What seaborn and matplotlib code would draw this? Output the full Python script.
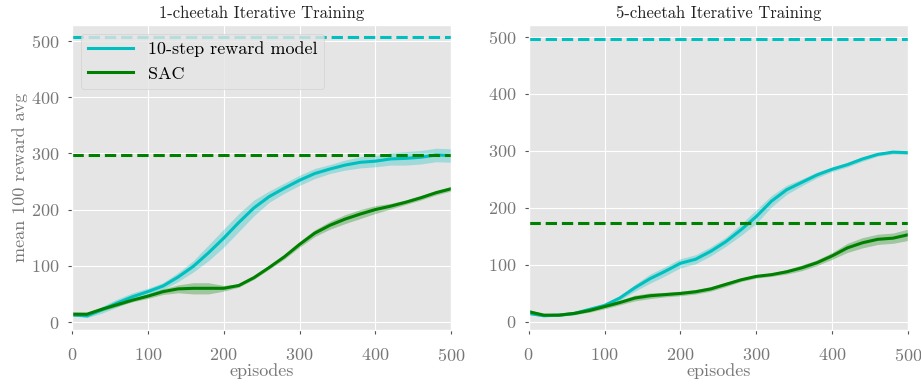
import numpy as np
import pandas as pd
import seaborn as sns
import matplotlib
matplotlib.use("Agg")
import matplotlib.pyplot as plt

EPISODES = [0, 20, 40, 60, 80, 100, 120, 140, 160, 180, 200, 220, 240,
            260, 280, 300, 320, 340, 360, 380, 400, 420, 440, 460, 480, 500]

# 1-cheetah
ONE_RM_MEAN = [13, 11, 22, 34, 45, 54, 64, 80, 99, 123, 149, 177, 203,
               223, 238, 252, 264, 272, 279, 284, 286, 290, 291, 293, 297, 296]
ONE_RM_SPREAD = [2, 3, 6, 7, 7, 6, 6, 8, 10, 14, 16, 16, 14,
                 10, 9, 9, 9, 8, 9, 10, 10, 11, 12, 12, 12, 12]
ONE_SAC_MEAN = [14, 14, 23, 31, 39, 46, 54, 59, 60, 60, 60, 65, 79,
                97, 116, 138, 158, 172, 183, 192, 200, 206, 213, 221, 230, 237]
ONE_SAC_SPREAD = [4, 3, 3, 3, 3, 4, 5, 7, 10, 10, 5, 3, 3,
                  3, 4, 5, 6, 7, 8, 8, 7, 5, 4, 4, 4, 4]
ONE_RM_BEST = 506
ONE_SAC_BEST = 297

# 5-cheetah
FIVE_RM_MEAN = [15, 11, 12, 15, 22, 29, 42, 60, 76, 89, 103, 110, 124,
                141, 162, 185, 212, 232, 245, 258, 268, 276, 286, 294, 298, 297]
FIVE_RM_SPREAD = [2, 2, 2, 3, 3, 3, 4, 6, 8, 8, 8, 8, 8,
                  8, 10, 12, 10, 8, 6, 5, 4, 4, 4, 3, 3, 3]
FIVE_SAC_MEAN = [18, 12, 12, 15, 20, 27, 34, 42, 46, 48, 50, 53, 58,
                 66, 74, 80, 83, 88, 95, 104, 116, 130, 139, 145, 147, 153]
FIVE_SAC_SPREAD = [4, 2, 2, 2, 3, 4, 4, 5, 5, 4, 4, 4, 4,
                   4, 3, 3, 3, 4, 5, 5, 6, 8, 9, 9, 9, 10]
FIVE_RM_BEST = 496
FIVE_SAC_BEST = 174

RM_COLOR = "c"
SAC_COLOR = "g"

plt.style.use("ggplot")
plt.rcParams["font.family"] = "serif"
plt.rcParams["font.serif"] = ["cmr10"]
plt.rcParams["axes.formatter.use_mathtext"] = True
plt.rcParams["mathtext.fontset"] = "cm"


def draw_panel(ax, title, rm_mean, rm_spread, sac_mean, sac_spread, rm_best, sac_best, ylim):
    df = pd.DataFrame({
        "episodes": EPISODES * 2,
        "reward": rm_mean + sac_mean,
        "model": ["10-step reward model"] * len(EPISODES) + ["SAC"] * len(EPISODES),
    })
    for model, mean, spread, color in [("10-step reward model", rm_mean, rm_spread, RM_COLOR),
                                        ("SAC", sac_mean, sac_spread, SAC_COLOR)]:
        sub = df[df["model"] == model]
        sns.lineplot(data=sub, x="episodes", y="reward", color=color, lw=2.2,
                     label=model, ax=ax)
        mean = np.array(mean)
        spread = np.array(spread)
        ax.fill_between(EPISODES, mean - spread, mean + spread, color=color, alpha=0.3, lw=0)
    ax.axhline(rm_best, color=RM_COLOR, ls="--", lw=2.2)
    ax.axhline(sac_best, color=SAC_COLOR, ls="--", lw=2.2)
    ax.set_xlim(0, 500)
    ax.set_ylim(*ylim)
    ax.set_xticks([0, 100, 200, 300, 400, 500])
    ax.set_yticks([0, 100, 200, 300, 400, 500])
    ax.tick_params(labelsize=13, colors="#555555", length=3)
    ax.tick_params(labelcolor="#777777")
    ax.tick_params(axis="x", pad=9)
    ax.tick_params(axis="y", pad=6)
    ax.set_title(title, fontsize=12, color="#222222", pad=5)
    ax.set_xlabel("episodes", fontsize=13, color="#777777", labelpad=0)


fig = plt.figure(figsize=(9.21, 3.85), dpi=100)
ax1 = fig.add_axes([0.078, 0.143, 0.412, 0.792])
ax2 = fig.add_axes([0.574, 0.143, 0.412, 0.792])

draw_panel(ax1, "1-cheetah Iterative Training", ONE_RM_MEAN, ONE_RM_SPREAD,
           ONE_SAC_MEAN, ONE_SAC_SPREAD, ONE_RM_BEST, ONE_SAC_BEST, (-14, 528))
draw_panel(ax2, "5-cheetah Iterative Training", FIVE_RM_MEAN, FIVE_RM_SPREAD,
           FIVE_SAC_MEAN, FIVE_SAC_SPREAD, FIVE_RM_BEST, FIVE_SAC_BEST, (-14, 521))

ax1.set_ylabel("mean 100 reward avg", fontsize=13, color="#777777", labelpad=2)
ax2.set_ylabel("")
ax1.legend(loc="upper left", fontsize=13, handlelength=2.5)
ax2.get_legend().remove()

fig.savefig("out.png", dpi=100)
